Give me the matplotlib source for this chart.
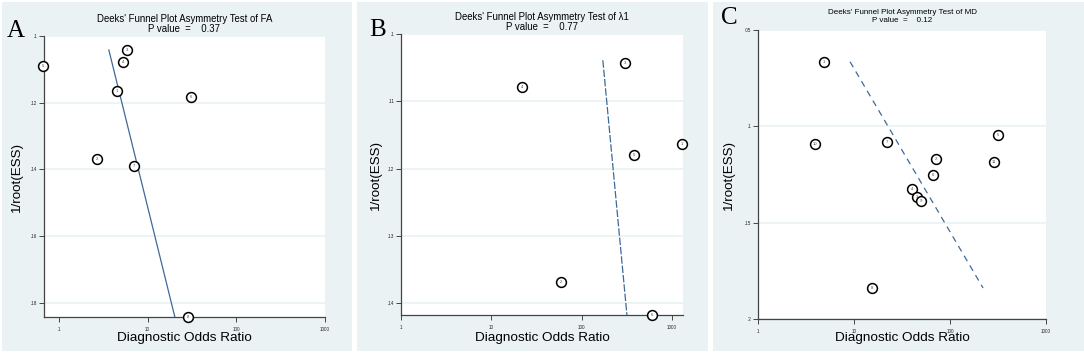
import matplotlib
matplotlib.use("Agg")
import matplotlib.pyplot as plt
from matplotlib.patches import Rectangle

W, H = 1084, 354
BG = "#EAF2F4"
LINE_C = "#3E6A98"

# ---------------- data ----------------
titles = ["Deeks' Funnel Plot Asymmetry Test of FA",
          "Deeks' Funnel Plot Asymmetry Test of λ1",
          "Deeks' Funnel Plot Asymmetry Test of MD"]
pvalues = ["0.37", "0.77", "0.12"]
letters = ["A", "B", "C"]

# Panel A
a_ids = ["3", "4", "5", "1", "6", "2", "7", "8"]
a_dor = [5.84, 5.26, 0.67, 4.5, 30.8, 2.7, 7.1, 28.5]
a_ess = [0.1042, 0.1078, 0.1090, 0.1165, 0.1183, 0.1369, 0.1390, 0.1843]
a_line_dor = [3.66, 20.3]
a_line_ess = [0.1042, 0.1843]
a_yticks = [0.10, 0.12, 0.14, 0.16, 0.18]
a_ylabels = [".1", ".12", ".14", ".16", ".18"]

# Panel B
b_ids = ["3", "4", "1", "5", "2", "6"]
b_dor = [300, 22, 1290, 380, 58.5, 600]
b_ess = [0.1043, 0.1079, 0.1163, 0.1180, 0.1368, 0.14175]
b_line_dor = [171, 316]
b_line_ess = [0.1039, 0.14175]
b_yticks = [0.10, 0.11, 0.12, 0.13, 0.14]
b_ylabels = [".1", ".11", ".12", ".13", ".14"]

# Panel C
c_ids = ["1", "10", "7", "5", "2", "11", "6", "4", "3", "9", "8"]
c_dor = [4.87, 3.93, 22.1, 316, 71.5, 287, 66.5, 40.2, 45.3, 49.9, 15.4]
c_ess = [0.0665, 0.1090, 0.1080, 0.1043, 0.1167, 0.1183, 0.1250, 0.1327, 0.1369, 0.1389, 0.1839]
c_line_dor = [9.1, 221]
c_line_ess = [0.0665, 0.1839]
c_yticks = [0.05, 0.10, 0.15, 0.20]
c_ylabels = [".05", ".1", ".15", ".2"]

xticks = [1, 10, 100, 1000]
xlabels = ["1", "10", "100", "1000"]

panels = [
    dict(ids=a_ids, x=a_dor, y=a_ess, lx=a_line_dor, ly=a_line_ess, yt=a_yticks, yl=a_ylabels,
         xlim=(0.68, 1000), ylim=(0.1843, 0.10), box=(44, 36, 325, 317), bg=(2, 2, 352, 351),
         ls="-", letter_xy=(7, 31), ylab_x=17, title_y=(19.5, 28.5), title_fs=6.9),
    dict(ids=b_ids, x=b_dor, y=b_ess, lx=b_line_dor, ly=b_line_ess, yt=b_yticks, yl=b_ylabels,
         xlim=(1, 1318), ylim=(0.14175, 0.10), box=(401, 34, 683, 315), bg=(357, 2, 708, 351),
         ls=(0, (6, 1.5)), letter_xy=(369, 30), ylab_x=376, title_y=(17.3, 26.7), title_fs=6.9),
    dict(ids=c_ids, x=c_dor, y=c_ess, lx=c_line_dor, ly=c_line_ess, yt=c_yticks, yl=c_ylabels,
         xlim=(1, 1000), ylim=(0.20, 0.05), box=(758, 30, 1046, 319), bg=(713, 2, 1084, 351),
         ls=(0, (5, 4)), letter_xy=(721, 18), ylab_x=729, title_y=(12.5, 20), title_fs=5.8),
]

plt.rcParams['font.family'] = ['Liberation Sans', 'DejaVu Sans']
fig = plt.figure(figsize=(W / 100, H / 100), dpi=100)
fig.patch.set_facecolor("white")


def fx(px):
    return px / W


def fy(py):
    return 1 - py / H


for i, p in enumerate(panels):
    bx0, by0, bx1, by1 = p["bg"]
    fig.patches.append(Rectangle((fx(bx0), fy(by1)), fx(bx1 - bx0), (by1 - by0) / H,
                                 transform=fig.transFigure, facecolor=BG, edgecolor="none",
                                 zorder=-10))
    l, t, r, b = p["box"]
    ax = fig.add_axes([fx(l), fy(b), fx(r - l), (b - t) / H], zorder=5)
    ax.set_facecolor("white")
    ax.set_xscale("log")
    ax.set_xlim(*p["xlim"])
    ax.set_ylim(*p["ylim"])
    for yv in p["yt"]:
        ax.axhline(yv, color=BG, lw=1.2, zorder=1)
    ax.plot(p["lx"], p["ly"], color=LINE_C, lw=0.9, linestyle=p["ls"], zorder=2)
    ax.scatter(p["x"], p["y"], s=50, facecolors="white", edgecolors="black",
               linewidths=1.1, zorder=3, clip_on=False)
    for sid, xv, yv in zip(p["ids"], p["x"], p["y"]):
        ax.text(xv, yv, sid, fontsize=3.0, ha="center", va="center", color="#444444",
                zorder=4, clip_on=False)
    ax.set_xticks(xticks)
    ax.set_xticklabels(xlabels)
    ax.xaxis.set_minor_locator(matplotlib.ticker.NullLocator())
    ax.set_yticks(p["yt"])
    ax.set_yticklabels(p["yl"])
    ax.tick_params(axis="both", labelsize=3.3, length=3.5, width=0.7, color="#444444",
                   pad=1.5, labelcolor="#222222")
    ax.tick_params(axis="x", pad=3.5)
    for s in ["top", "right"]:
        ax.spines[s].set_visible(False)
    for s in ["left", "bottom"]:
        ax.spines[s].set_color("#444444")
        ax.spines[s].set_linewidth(0.9)

    cx = (l + r) / 2
    ty1, ty2 = p["title_y"]
    fig.text(fx(cx), fy(ty1), titles[i], fontsize=p["title_fs"], ha="center", va="center",
             zorder=20)
    fig.text(fx(cx), fy(ty2), "P value  =    " + pvalues[i], fontsize=p["title_fs"],
             ha="center", va="center", zorder=20)
    lx_, ly_ = p["letter_xy"]
    fig.text(fx(lx_), fy(ly_), letters[i], fontsize=18, ha="left", va="center",
             family="Liberation Serif", zorder=20)
    fig.text(fx(p["ylab_x"]), fy((t + b) / 2), "1/root(ESS)", fontsize=9.6, rotation=90,
             ha="center", va="center", zorder=20)
    fig.text(fx(cx), fy(338), "Diagnostic Odds Ratio", fontsize=9.7, ha="center", va="center",
             zorder=20)

fig.savefig("out.png", dpi=100, facecolor="white")
